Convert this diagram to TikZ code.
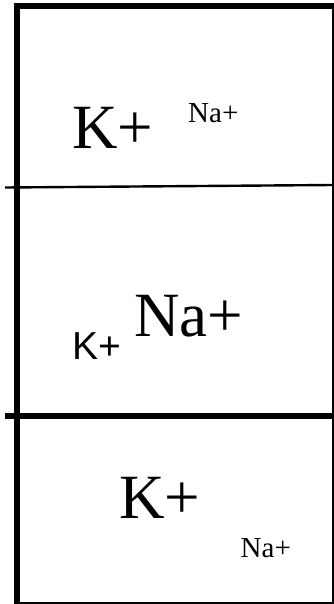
\documentclass[tikz,border=0pt]{standalone}
\usepackage{fontspec}
\setmainfont{Liberation Serif}
\newfontfamily\ionsans{Liberation Sans}
\usetikzlibrary{positioning}

\begin{document}
\begin{tikzpicture}[
    x=1pt, y=-1pt,
    wall/.style={line width=6pt},
    thinwall/.style={line width=2.4pt},
    ion/.style={inner sep=0pt, anchor=base west},
    big/.style={font=\fontsize{63}{63}\selectfont},
    small/.style={font=\fontsize{29}{29}\selectfont}
  ]
    \useasboundingbox (0,0) rectangle (334,604);

    % outer frame
    \draw[wall] (17,3.3) -- (17,604);
    \draw[wall] (14,6.3) -- (334,6.3);
    \draw[thinwall] (332.8,3.3) -- (332.8,604);
    \draw[line width=2pt] (20,603) -- (334,603);

    % dividers
    \draw[thinwall] (5,187.5) -- (333,185);
    \draw[line width=5.5pt] (5,416) -- (334,416);

    % top compartment
    \node[ion, big] (ktop) at (72,149) {K+};
    \node[ion, small] (natop) at (188,123) {Na+};

    % middle compartment
    \node[ion, big] (namid) at (134,336.7) {Na+};
    \node[ion, font=\ionsans\fontsize{39}{39}\selectfont] (kmid) at (72,359.3) {K+};

    % bottom compartment
    \node[ion, big] (kbot) at (119,518.3) {K+};
    \node[ion, small] (nabot) at (240.5,557.3) {Na+};
\end{tikzpicture}
\end{document}
